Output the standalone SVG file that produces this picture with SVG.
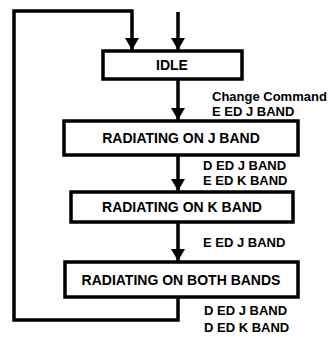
<svg xmlns="http://www.w3.org/2000/svg" width="333" height="337" viewBox="0 0 333 337">
<style>
.box{fill:#fff;stroke:#000;stroke-width:3.5}
.ln{fill:none;stroke:#000;stroke-width:3.5}
.t{font-family:"Liberation Sans",Arial,sans-serif;font-weight:bold;font-size:13px;fill:#000}
.b{font-size:14px;text-anchor:middle}
</style>
<defs>
<marker id="ah" viewBox="0 0 12 14" refX="12" refY="7" markerWidth="12" markerHeight="14" markerUnits="userSpaceOnUse" orient="auto">
<path d="M0,0 L12,7 L0,14 Z" fill="#000"/>
</marker>
</defs>
<rect width="333" height="337" fill="#fff"/>
<g id="connectors">
<path class="ln" d="M178,297 V320 H14 V11 H132 V50" marker-end="url(#ah)"/>
<path class="ln" d="M178,12 V50" marker-end="url(#ah)"/>
<path class="ln" d="M178,79 V120" marker-end="url(#ah)"/>
<path class="ln" d="M178,155 V191" marker-end="url(#ah)"/>
<path class="ln" d="M178,222 V261" marker-end="url(#ah)"/>
</g>
<g id="labels">
<text class="t" x="212" y="101">Change Command</text>
<text class="t" x="212" y="116">E ED J BAND</text>
<text class="t" x="203" y="170">D ED J BAND</text>
<text class="t" x="203" y="185">E ED K BAND</text>
<text class="t" x="203" y="247">E ED J BAND</text>
<text class="t" x="204" y="315">D ED J BAND</text>
<text class="t" x="204" y="332">D ED K BAND</text>
</g>
<g id="idle">
<rect class="box" x="103" y="51" width="139" height="28"/>
<text class="t b" x="172" y="70">IDLE</text>
</g>
<g id="j-band">
<rect class="box" x="64" y="121" width="234" height="34"/>
<text class="t b" x="181" y="143">RADIATING ON J BAND</text>
</g>
<g id="k-band">
<rect class="box" x="71" y="192" width="222" height="30"/>
<text class="t b" x="182" y="212">RADIATING ON K BAND</text>
</g>
<g id="both-bands">
<rect class="box" x="65" y="262" width="233" height="35"/>
<text class="t b" x="181" y="285">RADIATING ON BOTH BANDS</text>
</g>
</svg>
